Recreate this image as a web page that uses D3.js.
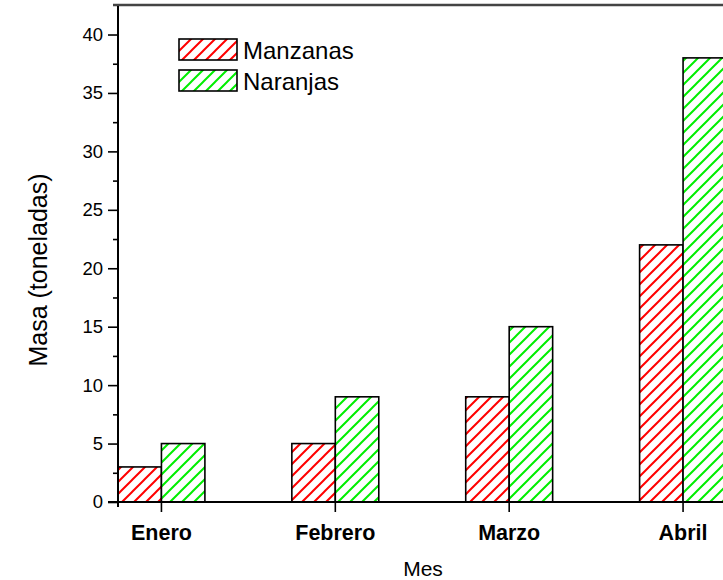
<!DOCTYPE html>
<html>
<head>
<meta charset="utf-8">
<script src="https://cdn.jsdelivr.net/npm/d3@7"></script>
<style>
  html, body { margin: 0; padding: 0; background: #fff; }
  svg { display: block; }
  text { font-family: "Liberation Sans", Arial, sans-serif; fill: #000; }
</style>
</head>
<body>
<script>
// Monthly fruit mass, in tonnes
const months = ["Enero", "Febrero", "Marzo", "Abril"];
const manzanas = [3, 5, 9, 22];
const naranjas = [5, 9, 15, 38];
const seriesNames = ["Manzanas", "Naranjas"];
const seriesColors = ["#ff0000", "#00ee00"];
const majorTicks = [0, 5, 10, 15, 20, 25, 30, 35, 40];
const minorTicks = [2.5, 7.5, 12.5, 17.5, 22.5, 27.5, 32.5, 37.5];

const W = 723, H = 580;
const svg = d3.select("body").append("svg").attr("width", W).attr("height", H);

// Diagonal hatch patterns, one per series
const defs = svg.append("defs");
seriesColors.forEach((c, i) => {
  const p = defs.append("pattern")
    .attr("id", "hatch" + i)
    .attr("patternUnits", "userSpaceOnUse")
    .attr("width", 12).attr("height", 12);
  p.append("rect").attr("width", 12).attr("height", 12).attr("fill", "#fff");
  p.append("path")
    .attr("d", "M-3,3 L3,-3 M0,12 L12,0 M9,15 L15,9")
    .attr("stroke", c).attr("stroke-width", 2);
});

const axisX = 118, axisY = 502;
const y = d3.scaleLinear().domain([0, 42.44]).range([axisY, 6]);
const x = d3.scaleBand().domain(months).range([74.5, 770]).paddingInner(0).paddingOuter(0);
const barW = x.step() / 4;
const center = m => x(m) + x.step() / 2;

// Bars
const g = svg.append("g");
[manzanas, naranjas].forEach((vals, s) => {
  g.selectAll(".bar" + s)
    .data(months.map((m, i) => ({ m, v: vals[i] })))
    .join("rect")
    .attr("x", d => center(d.m) + (s === 0 ? -barW : 0))
    .attr("y", d => y(d.v))
    .attr("width", barW)
    .attr("height", d => axisY - y(d.v))
    .attr("fill", `url(#hatch${s})`)
    .attr("stroke", "#000")
    .attr("stroke-width", 1.6);
});

// Top frame line
svg.append("line")
  .attr("x1", 113).attr("x2", W).attr("y1", 5).attr("y2", 5)
  .attr("stroke", "#444").attr("stroke-width", 2.5);

// Y axis: major ticks with labels, minor ticks without
const yMajor = svg.append("g").attr("transform", `translate(${axisX},0)`)
  .call(d3.axisLeft(y).tickValues(majorTicks).tickSize(10).tickPadding(5).tickFormat(d3.format("d")));
const yMinor = svg.append("g").attr("transform", `translate(${axisX},0)`)
  .call(d3.axisLeft(y).tickValues(minorTicks).tickSize(5).tickFormat(""));
[yMajor, yMinor].forEach(a => {
  a.select(".domain").remove();
  a.selectAll(".tick line").attr("stroke", "#000").attr("stroke-width", 1.6);
});
yMajor.selectAll(".tick text")
  .style("font-family", "'Liberation Sans', Arial, sans-serif")
  .style("font-size", "18.5px").attr("fill", "#000");

svg.append("line")
  .attr("x1", axisX).attr("x2", axisX).attr("y1", 6).attr("y2", 507)
  .attr("stroke", "#000").attr("stroke-width", 2);

// X axis
const xAxisG = svg.append("g").attr("transform", `translate(0,${axisY})`)
  .call(d3.axisBottom(x).tickSize(10).tickPadding(13));
xAxisG.select(".domain").remove();
xAxisG.selectAll(".tick line").attr("stroke", "#000").attr("stroke-width", 1.6);
xAxisG.selectAll(".tick text")
  .style("font-family", "'Liberation Sans', Arial, sans-serif")
  .style("font-size", "21.5px").style("font-weight", "bold").attr("fill", "#000");

svg.append("line")
  .attr("x1", 108).attr("x2", W).attr("y1", axisY).attr("y2", axisY)
  .attr("stroke", "#000").attr("stroke-width", 2);

// Axis titles
svg.append("text")
  .attr("x", 423).attr("y", 576)
  .attr("text-anchor", "middle")
  .style("font-size", "21px")
  .text("Mes");

svg.append("text")
  .attr("transform", "translate(47,270) rotate(-90)")
  .attr("text-anchor", "middle")
  .style("font-size", "25px")
  .text("Masa (toneladas)");

// Legend
const legend = svg.append("g").attr("transform", "translate(179,39)");
seriesNames.forEach((name, i) => {
  const row = legend.append("g").attr("transform", `translate(0,${i * 31})`);
  row.append("rect")
    .attr("width", 58).attr("height", 21)
    .attr("fill", `url(#hatch${i})`)
    .attr("stroke", "#000").attr("stroke-width", 1.6);
  row.append("text")
    .attr("x", 64).attr("y", 19.5)
    .style("font-size", "24px")
    .text(name);
});
</script>
</body>
</html>
